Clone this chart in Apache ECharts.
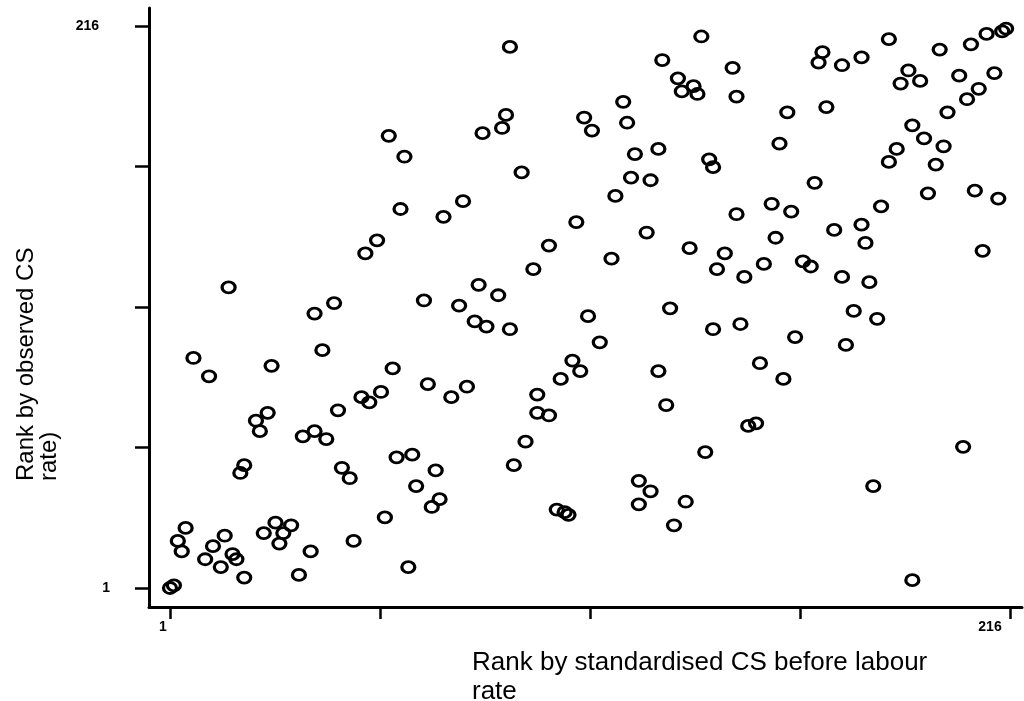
<!DOCTYPE html>
<html>
<head>
<meta charset="utf-8">
<script src="https://cdn.jsdelivr.net/npm/echarts@6/dist/echarts.min.js"></script>
<style>
html,body{margin:0;padding:0;background:#fff;}
#chart{width:1024px;height:701px;}
</style>
</head>
<body>
<div id="chart"></div>
<script>
// Rank by standardised CS before labour rate (x) and rank by observed CS rate (y)
const xRank = [
 57,61,60,
 88,137,127,145,131,135,132,136,117,87,86,81,107,109,118,126,120,139,140,119,124,115,91,76,
 185,198,206,210,214,215,168,167,173,178,146,159,169,157,190,193,188,203,212,208,205,200,191,194,199,187,185,197,166,155,160,146,195,207,213,183,
 71,54,51,16,43,38,66,40,7,11,27,58,67,55,50,52,44,26,
 105,123,134,143,141,98,114,94,80,85,75,79,82,88,108,111,129,140,104,106,101,126,77,73,95,128,95,98,
 171,178,179,156,153,163,165,148,173,180,209,176,182,147,161,174,152,158,
 23,24,35,38,41,45,47,19,20,59,63,69,64,70,68,56,48,62,34,37,25,28,32,30,29,10,12,15,17,18,14,20,5,3,4,1,2,
 89,92,100,102,103,121,124,121,130,133,138,
 149,151,181,204,191
];
const yRank = [
 174,166,146,
 208,212,203,200,196,193,191,190,187,182,177,175,181,176,179,169,167,165,162,158,157,151,160,149,
 211,207,209,213,214,215,206,202,201,204,189,183,185,171,199,195,194,197,198,192,188,183,178,173,170,169,164,163,156,148,145,144,152,153,150,147,
 143,134,129,116,110,106,111,92,89,82,86,85,79,76,74,72,69,68,
 141,137,131,129,123,132,127,123,117,113,109,103,101,100,105,95,108,100,88,84,81,84,78,74,75,71,68,67,
 138,140,133,135,125,126,124,120,120,118,130,107,104,102,97,94,87,81,
 65,61,59,61,58,47,43,45,48,51,52,46,40,35,32,28,19,9,6,15,22,26,25,22,18,12,17,21,14,12,9,5,24,19,15,1,2,
 48,57,31,30,29,42,38,33,25,34,53,
 63,64,40,55,4
];
const tickValues = [1, 54.75, 108.5, 162.25, 216];
const tickLabels = [1, 216];
const xTitle = 'Rank by standardised CS before labour\nrate';
const yTitle = 'Rank by observed CS\nrate)';

const points = xRank.map((x, i) => [x, yRank[i]]);

const chart = echarts.init(document.getElementById('chart'), null, {renderer: 'canvas'});
const labelFont = {fontFamily: 'Liberation Sans', fontWeight: 'bold', fontSize: 14, color: '#000'};
chart.setOption({
  animation: false,
  backgroundColor: '#fff',
  grid: {left: 149, right: 2, top: 8, bottom: 94, containLabel: false},
  xAxis: {
    type: 'value', min: -4.375, max: 219.07,
    splitLine: {show: false},
    axisLine: {show: true, onZero: false, lineStyle: {color: '#000', width: 3}},
    axisTick: {show: true, customValues: tickValues, length: 12, lineStyle: {color: '#000', width: 2.5}},
    axisLabel: {
      show: true, customValues: tickLabels, margin: 13,
      formatter: v => v === 216 ? '{b|216}' : '{a|1}',
      rich: {
        a: Object.assign({padding: [0, 14, 0, 0]}, labelFont),
        b: Object.assign({padding: [0, 40, 0, 0]}, labelFont)
      }
    }
  },
  yAxis: {
    type: 'value', min: -6.27, max: 222.9,
    splitLine: {show: false},
    axisLine: {show: true, onZero: false, lineStyle: {color: '#000', width: 3}},
    axisTick: {show: true, customValues: tickValues, length: 14, lineStyle: {color: '#000', width: 2.5}},
    axisLabel: {
      show: true, customValues: tickLabels, margin: 39,
      formatter: v => v === 216 ? '{b|216}' : '{a|1}',
      rich: {
        a: Object.assign({}, labelFont),
        b: Object.assign({padding: [0, 11, 0, 0]}, labelFont)
      }
    }
  },
  graphic: [
    {type: 'text', left: 472, top: 648, style: {text: xTitle, font: '26px "Liberation Sans"', lineHeight: 29, fill: '#000'}},
    {type: 'text', x: 15, y: 481, rotation: Math.PI / 2,
     style: {text: yTitle, font: '24px "Liberation Sans"', lineHeight: 23, fill: '#000', align: 'left', verticalAlign: 'top'}}
  ],
  series: [{
    type: 'scatter',
    data: points,
    symbol: 'circle',
    symbolSize: [13, 11],
    itemStyle: {color: 'rgba(0,0,0,0)', borderColor: '#000', borderWidth: 3, opacity: 1}
  }]
});
</script>
</body>
</html>
